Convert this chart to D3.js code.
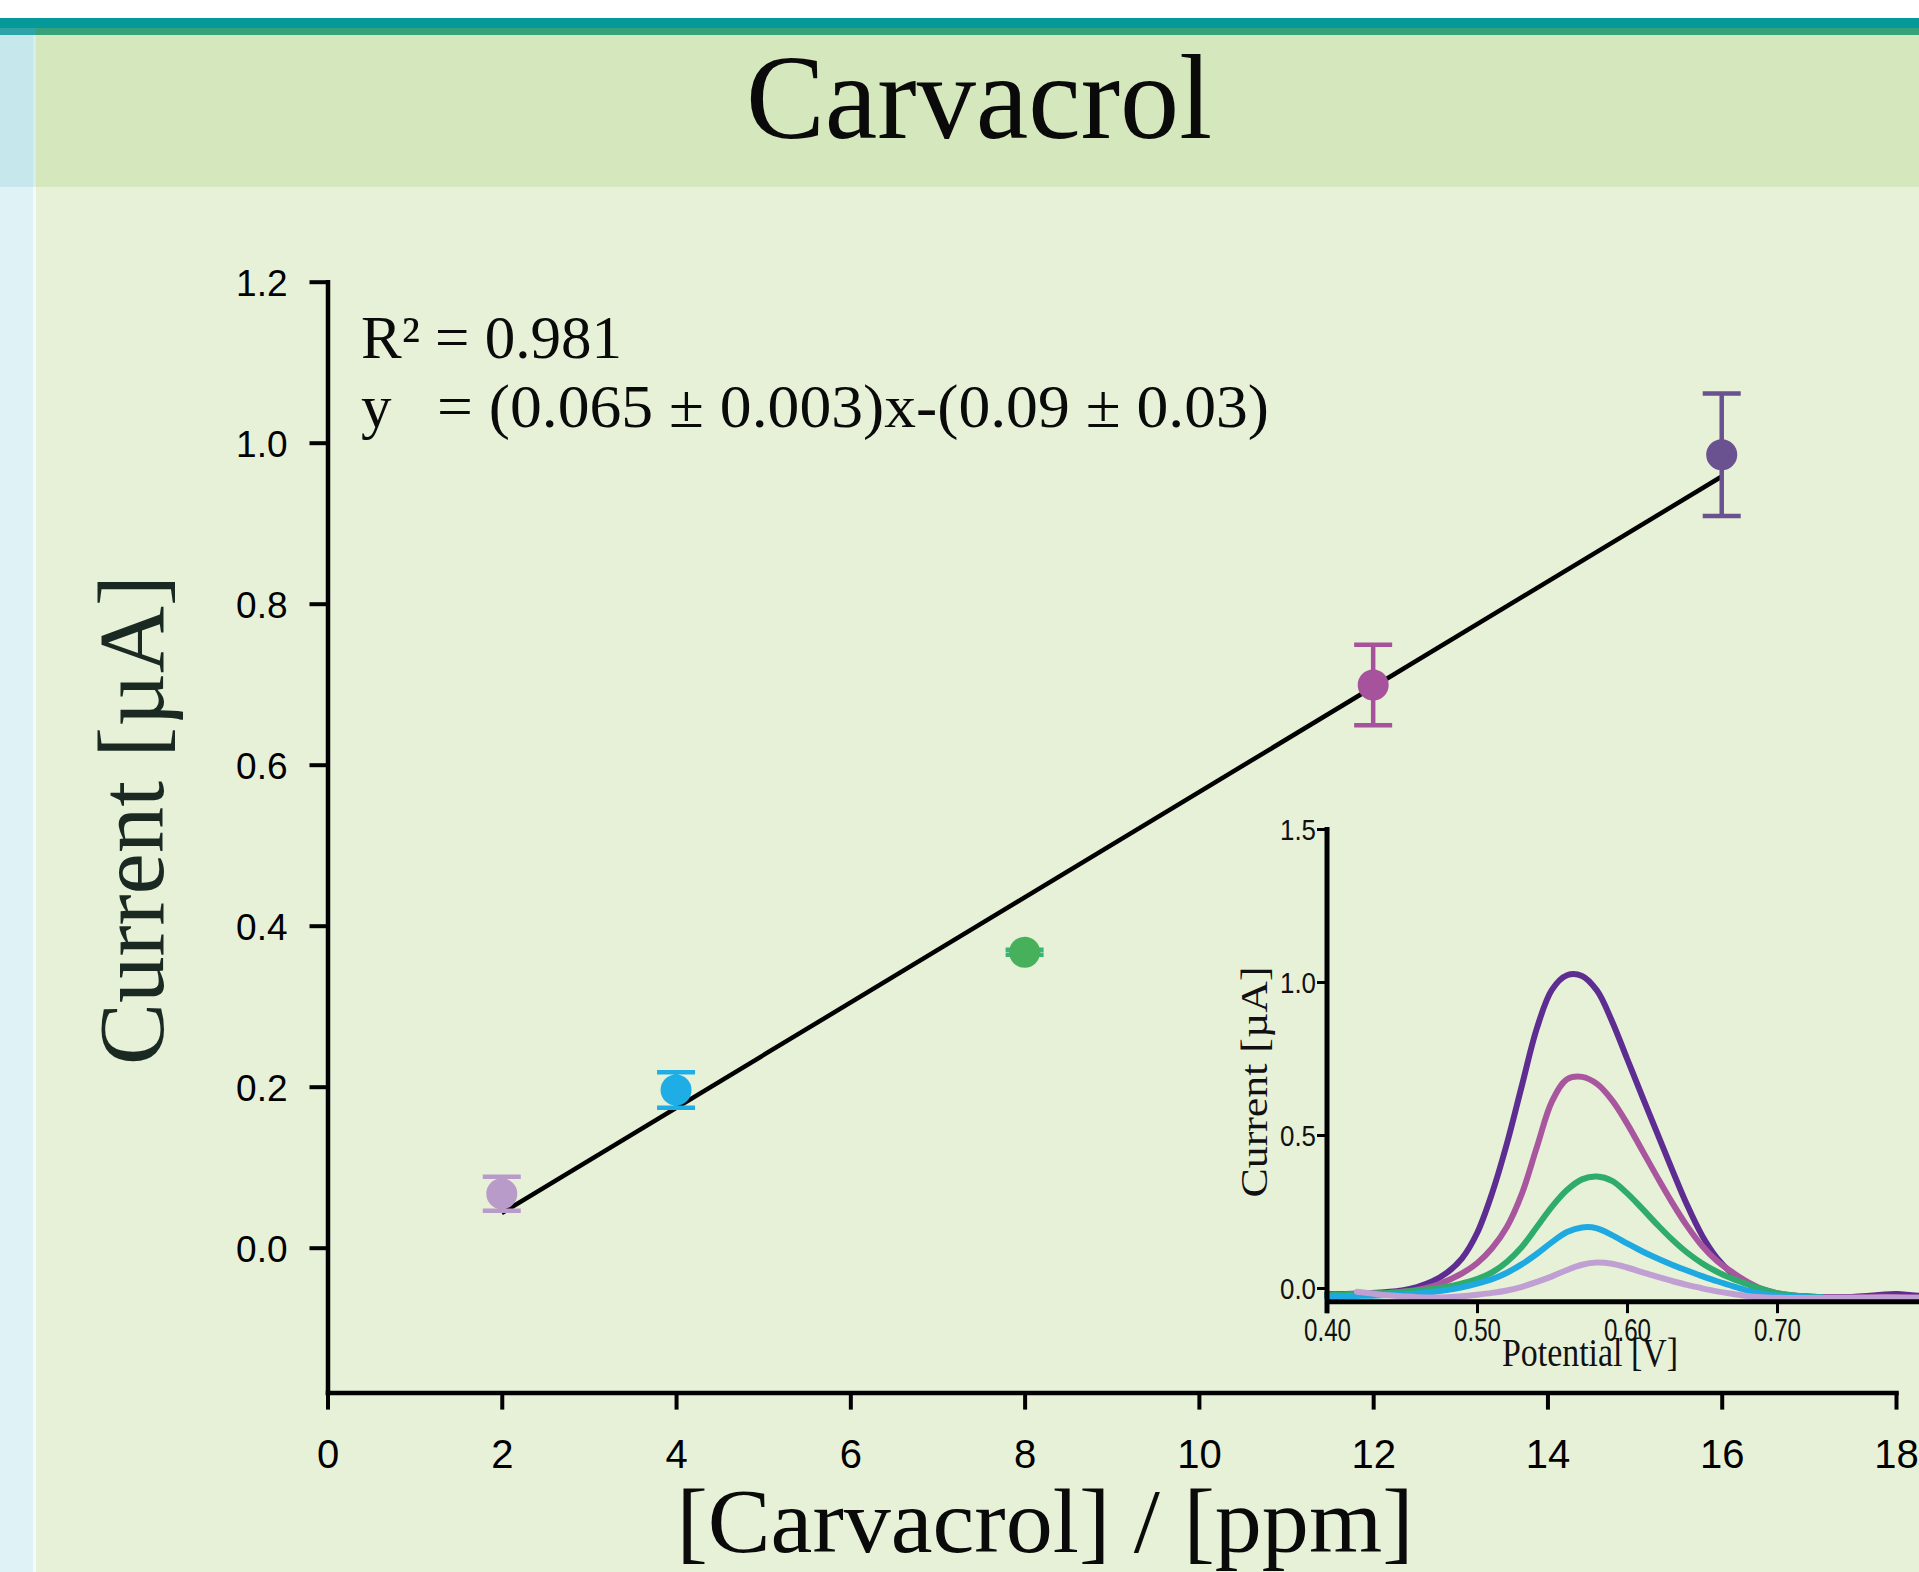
<!DOCTYPE html>
<html><head><meta charset="utf-8">
<script src="https://cdn.jsdelivr.net/npm/d3@7"></script>
<style>
body{margin:0;background:#ffffff;}
svg{display:block;}
</style>
</head><body>
<svg id="chart" width="1919" height="1572"></svg>
<script>
// ---------------- data ----------------
const chartTitle = "Carvacrol";
const xAxisTitle = "[Carvacrol] / [ppm]";
const yAxisTitle = "Current [µA]";
const r2Label = "R²";
const r2Value = "= 0.981";
const eqLabel = "y";
const eqValue = "= (0.065 ± 0.003)x-(0.09 ± 0.03)";

const concentrations = [2, 4, 8, 12, 16];
const currents = [0.067, 0.196, 0.367, 0.699, 0.985];
const currentErrors = [0.021, 0.022, 0.003, 0.050, 0.076];
const pointColors = ["#b99bc9", "#1eaee5", "#46b15a", "#a6529c", "#6a5190"];
const capColors = ["#b99bc9", "#1eaee5", "#39b577", "#a6529c", "#6a5190"];

const fitX = [2, 16];
const fitY = [0.043, 0.958];

const xTickValues = [0, 2, 4, 6, 8, 10, 12, 14, 16, 18];
const yTickValues = [0, 0.2, 0.4, 0.6, 0.8, 1.0, 1.2];

// inset (DPV curves)
const insetXLabel = "Potential [V]";
const insetYLabel = "Current [µA]";
const insetXTicks = [0.40, 0.50, 0.60, 0.70];
const insetYTicks = [0.0, 0.5, 1.0, 1.5];
const potential = [0.40,0.41,0.42,0.43,0.44,0.45,0.46,0.47,0.48,0.49,0.50,0.51,0.52,0.53,0.54,0.55,0.56,0.57,0.58,0.59,0.60,0.61,0.62,0.63,0.64,0.65,0.66,0.67,0.68,0.69,0.70,0.71,0.72,0.73,0.74,0.75,0.76,0.77,0.78,0.79,0.80];
const curve16ppm = [-0.020,-0.020,-0.018,-0.016,-0.013,-0.008,0.003,0.021,0.050,0.097,0.179,0.309,0.473,0.663,0.850,0.975,1.022,1.020,0.972,0.872,0.750,0.628,0.508,0.388,0.272,0.172,0.098,0.048,0.015,-0.008,-0.020,-0.026,-0.028,-0.030,-0.030,-0.029,-0.026,-0.022,-0.020,-0.024,-0.027];
const curve12ppm = [-0.022,-0.021,-0.020,-0.018,-0.016,-0.012,-0.006,0.005,0.024,0.048,0.081,0.130,0.200,0.309,0.462,0.610,0.682,0.690,0.667,0.614,0.538,0.451,0.364,0.280,0.203,0.138,0.088,0.052,0.021,-0.003,-0.017,-0.024,-0.028,-0.030,-0.031,-0.031,-0.030,-0.029,-0.030,-0.031,-0.032];
const curve8ppm = [-0.024,-0.022,-0.020,-0.018,-0.016,-0.013,-0.008,-0.003,0.004,0.015,0.029,0.051,0.086,0.135,0.200,0.266,0.320,0.355,0.364,0.350,0.310,0.260,0.208,0.159,0.116,0.081,0.053,0.031,0.013,-0.004,-0.017,-0.024,-0.028,-0.030,null,null,null,null,null,null,null];
const curve4ppm = [-0.028,-0.027,-0.026,-0.025,-0.023,-0.021,-0.018,-0.013,-0.007,0.002,0.014,0.029,0.050,0.078,0.112,0.150,0.183,0.198,0.195,0.173,0.146,0.120,0.097,0.076,0.057,0.039,0.022,0.007,-0.008,-0.019,-0.025,-0.028,-0.030,-0.031,null,null,null,null,null,null,null];
const curve2ppm = [null,null,-0.012,-0.018,-0.024,-0.027,-0.030,-0.031,-0.030,-0.027,-0.022,-0.016,-0.008,0.004,0.020,0.038,0.059,0.076,0.083,0.079,0.067,0.052,0.037,0.023,0.010,-0.001,-0.011,-0.019,-0.026,-0.030,-0.032,-0.033,-0.033,-0.033,-0.033,-0.032,-0.032,-0.031,-0.031,-0.032,-0.032];
const curveColors = ["#5e2d91", "#a8579f", "#2fac6c", "#1ea9e1", "#c0a0d3"];

// ---------------- drawing ----------------
const svg = d3.select("#chart");
const serif = "'Liberation Serif','Times New Roman',serif";
const sans = "'Liberation Sans',Arial,sans-serif";

// background frame
svg.append("rect").attr("x",0).attr("y",0).attr("width",1919).attr("height",1572).attr("fill","#ffffff");
svg.append("rect").attr("x",0).attr("y",18).attr("width",1919).attr("height",10).attr("fill","#05999a");
svg.append("rect").attr("x",0).attr("y",28).attr("width",1919).attr("height",7).attr("fill","#36a27a");
svg.append("rect").attr("x",0).attr("y",28).attr("width",36).attr("height",7).attr("fill","#2fa4a6");
svg.append("rect").attr("x",0).attr("y",35).attr("width",1919).attr("height",152).attr("fill","#d5e7bc");
svg.append("rect").attr("x",0).attr("y",187).attr("width",1919).attr("height",1385).attr("fill","#e7f1d8");
svg.append("rect").attr("x",0).attr("y",35).attr("width",33).attr("height",152).attr("fill","#c6e7eb");
svg.append("rect").attr("x",33).attr("y",35).attr("width",3).attr("height",152).attr("fill","#d6eeee");
svg.append("rect").attr("x",0).attr("y",187).attr("width",33).attr("height",1385).attr("fill","#dff2f6");
svg.append("rect").attr("x",33).attr("y",187).attr("width",3).attr("height",1385).attr("fill","#f4fafa");

// title
svg.append("text").attr("x",979).attr("y",138).attr("text-anchor","middle")
  .attr("font-family",serif).attr("font-size",120).attr("fill","#0a0a0a")
  .attr("textLength",466).attr("lengthAdjust","spacingAndGlyphs").text(chartTitle);

// main scales
const x = d3.scaleLinear().domain([0, 18]).range([327.5, 1896]);
const y = d3.scaleLinear().domain([-0.18, 1.2]).range([1392.6, 281.7]);

// x axis
const gx = svg.append("g").attr("transform",`translate(0,${y(-0.18)})`)
  .call(d3.axisBottom(x).tickValues(xTickValues).tickSize(17).tickSizeOuter(0).tickFormat(d3.format("d")));
gx.select(".domain").attr("stroke","#000").attr("stroke-width",4.5).attr("stroke-linecap","square");
gx.selectAll(".tick line").attr("stroke","#000").attr("stroke-width",4);
gx.selectAll(".tick text").attr("y",75).attr("dy",0).attr("fill","#000")
  .attr("font-family",sans).attr("font-size",40);

// y axis
const gy = svg.append("g").attr("transform",`translate(${x(0)},0)`)
  .call(d3.axisLeft(y).tickValues(yTickValues).tickSize(18).tickSizeOuter(0).tickFormat(d3.format(".1f")));
gy.select(".domain").attr("stroke","#000").attr("stroke-width",4.5).attr("stroke-linecap","square");
gy.selectAll(".tick line").attr("stroke","#000").attr("stroke-width",4);
gy.selectAll(".tick text").attr("x",-40).attr("dy","0.36em").attr("fill","#000")
  .attr("font-family",sans).attr("font-size",37);

// axis titles
svg.append("text").attr("x",1045).attr("y",1552).attr("text-anchor","middle")
  .attr("font-family",serif).attr("font-size",90).attr("fill","#0a0a0a")
  .attr("textLength",737).attr("lengthAdjust","spacingAndGlyphs").text(xAxisTitle);
svg.append("text").attr("transform","translate(163,820) rotate(-90)").attr("text-anchor","middle")
  .attr("font-family",serif).attr("font-size",94).attr("fill","#1a2a22")
  .attr("textLength",490).attr("lengthAdjust","spacingAndGlyphs").text(yAxisTitle);

// equation annotation
const ann = svg.append("g").attr("font-family",serif).attr("font-size",61).attr("fill","#0a0a0a");
ann.append("text").attr("x",361).attr("y",358).text(r2Label);
ann.append("text").attr("x",435).attr("y",358).text(r2Value);
ann.append("text").attr("x",361).attr("y",427).text(eqLabel);
ann.append("text").attr("x",437).attr("y",427).attr("textLength",832).attr("lengthAdjust","spacingAndGlyphs").text(eqValue);

// fit line
svg.append("path")
  .datum(fitX.map((d,i)=>[d, fitY[i]]))
  .attr("d", d3.line().x(d=>x(d[0])).y(d=>y(d[1])))
  .attr("stroke","#000").attr("stroke-width",4.5).attr("fill","none");

// error bars + markers
const pts = concentrations.map((c,i)=>({c, v:currents[i], e:currentErrors[i], col:pointColors[i], cap:capColors[i]}));
const eb = svg.append("g");
pts.forEach(p=>{
  const g = eb.append("g").attr("stroke",p.cap).attr("stroke-width",4.5);
  g.append("line").attr("x1",x(p.c)).attr("x2",x(p.c)).attr("y1",y(p.v-p.e)).attr("y2",y(p.v+p.e));
  g.append("line").attr("x1",x(p.c)-19).attr("x2",x(p.c)+19).attr("y1",y(p.v+p.e)).attr("y2",y(p.v+p.e));
  g.append("line").attr("x1",x(p.c)-19).attr("x2",x(p.c)+19).attr("y1",y(p.v-p.e)).attr("y2",y(p.v-p.e));
});
svg.append("g").selectAll("circle").data(pts).join("circle")
  .attr("cx",d=>x(d.c)).attr("cy",d=>y(d.v)).attr("r",15.5).attr("fill",d=>d.col);

// ---------------- inset ----------------
const ix = d3.scaleLinear().domain([0.40, 0.80]).range([1327, 1927]);
const iy = d3.scaleLinear().domain([0, 1.5]).range([1288, 829]);

const series = [curve16ppm, curve12ppm, curve8ppm, curve4ppm, curve2ppm];
const lineGen = d3.line().defined(d=>d[1]!==null).x(d=>ix(d[0])).y(d=>iy(d[1])).curve(d3.curveCatmullRom.alpha(0.5));
svg.append("g").selectAll("path").data(series).join("path")
  .attr("d", s=>lineGen(potential.map((p,i)=>[p, s[i]])))
  .attr("fill","none").attr("stroke",(s,i)=>curveColors[i]).attr("stroke-width",6)
  .attr("stroke-linejoin","round").attr("stroke-linecap","round");

// inset axes
const igx = svg.append("g").attr("transform",`translate(0,${iy(-0.043)})`)
  .call(d3.axisBottom(ix).tickValues(insetXTicks).tickSize(12).tickSizeOuter(0).tickFormat(d3.format(".2f")));
igx.select(".domain").attr("stroke","#000").attr("stroke-width",5);
igx.selectAll(".tick line").attr("stroke","#000").attr("stroke-width",3);
igx.selectAll(".tick text").attr("y",40).attr("dy",0).attr("fill","#111")
  .attr("font-family",sans).attr("font-size",31)
  .attr("textLength",47).attr("lengthAdjust","spacingAndGlyphs");

const igy = svg.append("g").attr("transform",`translate(${ix(0.40)},0)`)
  .call(d3.axisLeft(iy).tickValues(insetYTicks).tickSize(10).tickSizeOuter(0).tickFormat(d3.format(".1f")));
igy.select(".domain").attr("stroke","#000").attr("stroke-width",5).attr("d",`M0,${iy(1.5)-2}V${iy(-0.043)+12}`);
igy.selectAll(".tick line").attr("stroke","#000").attr("stroke-width",3);
igy.selectAll(".tick text").attr("x",-11).attr("dy","0.36em").attr("fill","#111")
  .attr("font-family",sans).attr("font-size",29)
  .attr("textLength",36).attr("lengthAdjust","spacingAndGlyphs");

svg.append("text").attr("x",1590).attr("y",1366).attr("text-anchor","middle")
  .attr("font-family",serif).attr("font-size",40).attr("fill","#111")
  .attr("textLength",176).attr("lengthAdjust","spacingAndGlyphs").text(insetXLabel);
svg.append("text").attr("transform","translate(1267,1082) rotate(-90)").attr("text-anchor","middle")
  .attr("font-family",serif).attr("font-size",37).attr("fill","#111")
  .attr("textLength",231).attr("lengthAdjust","spacingAndGlyphs").text(insetYLabel);
</script>
</body></html>
